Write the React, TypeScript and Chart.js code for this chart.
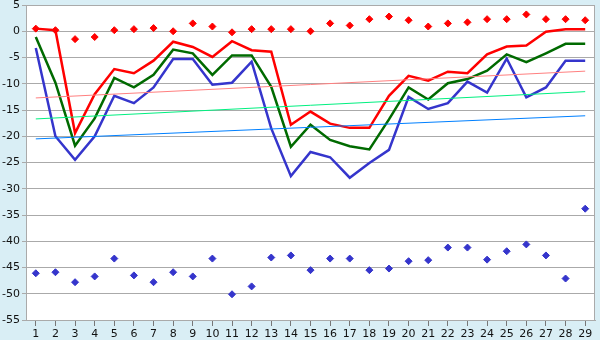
import React, { useEffect, useRef } from "react";
import { Chart, registerables } from "chart.js";

Chart.register(...registerables);

const categories = ["1","2","3","4","5","6","7","8","9","10","11","12","13","14","15","16","17","18","19","20","21","22","23","24","25","26","27","28","29"];

const redDots = [0.5, 0.2, -1.5, -1.1, 0.2, 0.4, 0.6, 0.0, 1.5, 0.9, -0.2, 0.4, 0.4, 0.4, 0.0, 1.5, 1.1, 2.3, 2.8, 2.1, 0.9, 1.5, 1.7, 2.3, 2.3, 3.2, 2.3, 2.3, 2.1];
const redLine = [0.5, 0.2, -19.4, -12.0, -7.2, -8.0, -5.6, -2.0, -3.0, -4.9, -1.9, -3.6, -3.9, -17.8, -15.3, -17.6, -18.4, -18.4, -12.3, -8.5, -9.4, -7.7, -8.0, -4.4, -2.9, -2.7, -0.1, 0.4, 0.4];
const greenLine = [-1.1, -9.8, -21.8, -16.6, -8.9, -10.7, -8.3, -3.5, -4.2, -8.3, -4.6, -4.6, -10.6, -22.0, -17.8, -20.7, -21.9, -22.5, -16.8, -10.7, -13.0, -9.9, -9.1, -7.5, -4.4, -5.9, -4.2, -2.4, -2.4];
const blueLine = [-3.2, -20.0, -24.5, -20.0, -12.3, -13.7, -10.7, -5.3, -5.3, -10.2, -9.8, -5.8, -18.5, -27.6, -23.0, -24.0, -27.9, -25.1, -22.6, -12.5, -14.8, -13.7, -9.6, -11.7, -5.2, -12.6, -10.7, -5.6, -5.6];
const blueDots = [-46.1, -45.9, -47.8, -46.7, -43.3, -46.5, -47.8, -45.9, -46.7, -43.3, -50.1, -48.6, -43.1, -42.7, -45.5, -43.3, -43.3, -45.5, -45.2, -43.8, -43.6, -41.2, -41.2, -43.5, -41.9, -40.6, -42.7, -47.1, -33.8];

const N = null;
const pinkTrend = [-12.7, N, N, N, N, N, N, N, N, N, N, N, N, N, N, N, N, N, N, N, N, N, N, N, N, N, N, N, -7.6];
const greenTrend = [-16.7, N, N, N, N, N, N, N, N, N, N, N, N, N, N, N, N, N, N, N, N, N, N, N, N, N, N, N, -11.5];
const blueTrend = [-20.5, N, N, N, N, N, N, N, N, N, N, N, N, N, N, N, N, N, N, N, N, N, N, N, N, N, N, N, -16.1];

const yMin = -55;
const yMax = 5;
const yStep = 5;

const OUTER_BG = "#d9eef5";
const FONT = "'DejaVu Sans', Verdana, sans-serif";

const bgPlugin = {
  id: "bgPlugin",
  beforeDraw(chart: any) {
    const { ctx, chartArea, width, height } = chart;
    ctx.save();
    ctx.fillStyle = OUTER_BG;
    ctx.fillRect(0, 0, width, height);
    ctx.fillStyle = "#ffffff";
    ctx.fillRect(chartArea.left, chartArea.top, chartArea.right - chartArea.left, chartArea.bottom - chartArea.top);
    ctx.restore();
  },
  beforeDatasetsDraw(chart: any) {
    const { ctx, chartArea } = chart;
    ctx.save();
    ctx.strokeStyle = "#aaaaaa";
    ctx.lineWidth = 1;
    ctx.strokeRect(Math.round(chartArea.left) + 0.5, Math.round(chartArea.top) + 0.5, Math.round(chartArea.right - chartArea.left) - 1, Math.round(chartArea.bottom - chartArea.top));
    ctx.restore();
  },
};

export default function App() {
  const ref = useRef<HTMLCanvasElement | null>(null);
  useEffect(() => {
    document.body.style.margin = "0";
    const canvas = ref.current!;
    const lineDs = (label: string, data: any[], color: string, width: number) => ({
      label,
      data,
      borderColor: color,
      backgroundColor: color,
      borderWidth: width,
      pointRadius: 0,
      tension: 0,
      spanGaps: true,
      fill: false,
    });
    const dotDs = (label: string, data: number[], color: string) => ({
      label,
      data,
      borderColor: color,
      backgroundColor: color,
      showLine: false,
      pointStyle: "rectRot",
      pointRadius: 3.5,
      borderWidth: 1,
    });
    const chart = new Chart(canvas, {
      type: "line",
      data: {
        labels: categories,
        datasets: [
          lineDs("pinkTrend", pinkTrend, "#ff8080", 1),
          lineDs("greenTrend", greenTrend, "#00f080", 1),
          lineDs("blueTrend", blueTrend, "#0080ff", 1),
          lineDs("blueLine", blueLine, "#3535cc", 2.5),
          lineDs("greenLine", greenLine, "#006a00", 2.5),
          lineDs("redLine", redLine, "#ff0000", 2.5),
          dotDs("redDots", redDots, "#ff0000"),
          dotDs("blueDots", blueDots, "#3535cc"),
        ] as any,
      },
      options: {
        animation: false,
        responsive: false,
        devicePixelRatio: 1,
        layout: { padding: { top: 5, right: 5, left: 0, bottom: 0 } },
        plugins: { legend: { display: false }, tooltip: { enabled: false } },
        scales: {
          x: {
            offset: true,
            border: { display: true, color: "#aaaaaa" },
            grid: { drawOnChartArea: false, drawTicks: true, tickLength: 6, color: "#777777", offset: false },
            ticks: { color: "#111111", font: { family: FONT, size: 11 }, padding: 2, maxRotation: 0, autoSkip: false },
            afterFit: (s: any) => { s.height = 20; s.paddingLeft = 0; s.paddingRight = 0; },
          },
          y: {
            min: yMin,
            max: yMax,
            border: { display: true, color: "#aaaaaa" },
            grid: { color: "#aaaaaa", drawTicks: true, tickLength: 4 },
            ticks: {
              stepSize: yStep,
              color: "#111111",
              font: { family: FONT, size: 11 },
              padding: 2,
              callback: (v: any) => String(v),
            },
            afterFit: (s: any) => { s.width = 26; s.paddingTop = 0; s.paddingBottom = 0; },
          },
        },
      },
      plugins: [bgPlugin],
    });
    return () => chart.destroy();
  }, []);
  return (
    <div style={{ width: 600, height: 340, background: OUTER_BG }}>
      <canvas ref={ref} width={600} height={340} style={{ display: "block", width: 600, height: 340 }} />
    </div>
  );
}
